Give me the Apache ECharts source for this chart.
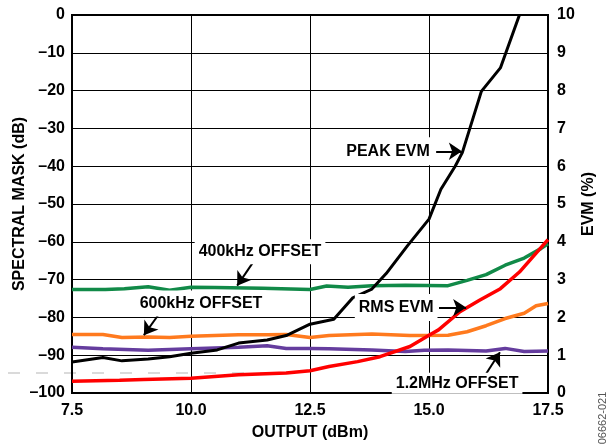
<!DOCTYPE html>
<html>
<head>
<meta charset="utf-8">
<script src="https://cdn.jsdelivr.net/npm/echarts@6/dist/echarts.min.js"></script>
<style>
  html, body { margin: 0; padding: 0; background: #fff; }
  #chart { width: 610px; height: 446px; }
</style>
</head>
<body>
<div id="chart"></div>
<script>
// spectral mask / EVM vs output power
const font = 'Liberation Sans, Arial, Helvetica, sans-serif';

// [output dBm, spectral mask dB]
const offset400k = [
  [7.5, -72.6], [8.2, -72.6], [8.6, -72.4], [9.1, -71.9], [9.55, -72.8], [10.0, -72.0],
  [10.5, -72.1], [11.5, -72.3], [12.5, -72.6], [12.85, -71.7], [13.3, -72.0], [13.8, -71.6],
  [14.5, -71.5], [15.4, -71.6], [15.8, -70.2], [16.2, -68.7], [16.6, -66.2], [17.0, -64.3],
  [17.35, -61.8], [17.5, -60.5]
];
const offset600k = [
  [7.5, -84.5], [8.15, -84.5], [8.55, -85.3], [9.1, -85.2], [9.55, -85.3], [10.0, -85.0],
  [11.0, -84.6], [11.6, -84.6], [12.0, -84.5], [12.5, -85.3], [12.9, -84.8], [13.8, -84.4],
  [14.6, -84.8], [15.4, -84.7], [15.8, -83.8], [16.2, -82.2], [16.6, -80.3], [17.0, -78.9],
  [17.25, -76.9], [17.5, -76.3]
];
const offset1M2 = [
  [7.5, -87.9], [8.15, -88.3], [9.1, -88.7], [10.0, -88.3], [11.0, -87.9], [11.6, -87.5],
  [12.0, -88.2], [12.5, -88.2], [12.9, -88.3], [13.8, -88.6], [14.5, -89.0], [14.9, -88.7],
  [15.4, -88.6], [16.2, -88.9], [16.6, -88.2], [17.0, -89.0], [17.5, -88.9]
];
// [output dBm, EVM %]
const rmsEvm = [
  [7.5, 0.31], [8.5, 0.34], [9.0, 0.36], [10.0, 0.39], [11.0, 0.48], [12.0, 0.53],
  [12.5, 0.59], [12.9, 0.70], [13.5, 0.83], [13.97, 0.96], [14.6, 1.23], [15.0, 1.53],
  [15.2, 1.67], [15.65, 2.15], [16.07, 2.46], [16.5, 2.76], [16.9, 3.2], [17.5, 4.06]
];
const peakEvm = [
  [7.5, 0.82], [8.15, 0.94], [8.55, 0.85], [9.1, 0.9], [9.55, 0.96], [10.0, 1.05],
  [10.55, 1.14], [11.0, 1.32], [11.6, 1.4], [12.0, 1.52], [12.5, 1.82], [13.0, 1.95],
  [13.4, 2.52], [13.8, 2.75], [14.1, 3.16], [14.55, 3.9], [15.0, 4.6], [15.25, 5.39],
  [15.55, 6.0], [15.7, 6.36], [16.1, 7.98], [16.5, 8.6], [16.9, 10.0]
];

// callout texts [label, x dBm, y dB, padding] and arrows [x1, y1, x2, y2] in dBm / dB
const callouts = [
  ['PEAK EVM', 14.14, -36.05, [6, 4, 6, 4]],
  ['400kHz OFFSET', 11.45, -62.6, [5, 4, 4, 4]],
  ['600kHz OFFSET', 10.21, -76.3, [5, 4, 5, 4]],
  ['RMS EVM', 14.31, -77.4, [6, 4, 5, 4]],
  ['1.2MHz OFFSET', 15.59, -97.4, [4, 4, 1, 4]]
];
const arrows = [
  [15.15, -36.05, 15.69, -36.05],
  [11.30, -65.5, 10.97, -71.6],
  [9.35, -78.7, 9.01, -84.7],
  [15.21, -77.4, 15.78, -77.4],
  [16.18, -95.3, 16.49, -89.2]
];

const bold = { color: '#000', fontFamily: font, fontWeight: 'bold', fontSize: 16 };

const lineSeries = (name, data, color, axis, width) => ({
  name,
  type: 'line',
  yAxisIndex: axis,
  data,
  symbol: 'none',
  smooth: false,
  silent: true,
  lineStyle: { color, width },
  z: 3
});

const chart = echarts.init(document.getElementById('chart'));

// white label boxes sit over the grid but under the curves
const annotationSeries = {
  type: 'line',
  yAxisIndex: 0,
  data: [],
  silent: true,
  z: 1,
  markPoint: {
    silent: true,
    symbol: 'rect',
    symbolSize: 1,
    itemStyle: { color: 'rgba(0,0,0,0)' },
    label: {
      show: true,
      position: 'inside',
      formatter: '{b}',
      backgroundColor: '#fff',
      ...bold
    },
    data: callouts.map(([text, x, y, pad]) => ({
      name: text,
      coord: [x, y],
      label: { padding: pad }
    }))
  },
  markLine: {
    silent: true,
    symbol: ['none', 'arrow'],
    symbolSize: 13,
    label: { show: false },
    lineStyle: { color: '#000', width: 2, type: 'solid' },
    data: arrows.map(([x1, y1, x2, y2]) => [{ coord: [x1, y1] }, { coord: [x2, y2] }])
  }
};

chart.setOption({
  animation: false,
  grid: {
    left: 72, right: 62, top: 15, bottom: 51,
    show: true, borderColor: '#000', borderWidth: 2
  },
  xAxis: {
    type: 'value',
    min: 7.5, max: 17.5, interval: 2.5,
    name: 'OUTPUT (dBm)',
    nameLocation: 'middle',
    nameGap: 32,
    nameMoveOverlap: false,
    nameTextStyle: bold,
    axisLine: { show: true, lineStyle: { color: '#000', width: 2 } },
    axisTick: { show: false },
    axisLabel: { ...bold, margin: 10, formatter: (v) => v.toFixed(1) },
    splitLine: { show: true, lineStyle: { color: '#000', width: 1 } }
  },
  yAxis: [
    {
      type: 'value',
      min: -100, max: 0, interval: 10,
      name: 'SPECTRAL MASK (dB)',
      nameLocation: 'middle',
      nameGap: 44,
      nameMoveOverlap: false,
      nameTextStyle: bold,
      axisLine: { show: true, lineStyle: { color: '#000', width: 2 } },
      axisTick: { show: false },
      axisLabel: { ...bold, margin: 7, formatter: (v) => (v < 0 ? '\u2013' + Math.abs(v) : String(v)) },
      splitLine: { show: true, lineStyle: { color: '#000', width: 1 } }
    },
    {
      type: 'value',
      position: 'right',
      min: 0, max: 10, interval: 1,
      name: 'EVM (%)',
      nameLocation: 'middle',
      nameGap: 33,
      nameMoveOverlap: false,
      nameRotate: 90,
      nameTextStyle: bold,
      axisLine: { show: true, lineStyle: { color: '#000', width: 2 } },
      axisTick: { show: false },
      axisLabel: { ...bold, margin: 9 },
      splitLine: { show: false }
    }
  ],
  graphic: [
    {
      type: 'line',
      silent: true,
      z: -1,
      shape: { x1: 8, y1: 373, x2: 285, y2: 373 },
      style: { stroke: '#b5b5b5', lineWidth: 1, lineDash: [12, 16] }
    },
    {
      type: 'text',
      silent: true,
      x: 603, y: 418,
      rotation: Math.PI / 2,
      style: {
        text: '06662-021',
        fill: '#555',
        font: '11px ' + font,
        textAlign: 'center',
        textVerticalAlign: 'middle'
      }
    }
  ],
  series: [
    annotationSeries,
    lineSeries('400kHz OFFSET', offset400k, '#118a48', 0, 3.5),
    lineSeries('600kHz OFFSET', offset600k, '#ff7a1e', 0, 3.5),
    lineSeries('1.2MHz OFFSET', offset1M2, '#653d9e', 0, 3.5),
    lineSeries('RMS EVM', rmsEvm, '#ff0000', 1, 3.5),
    lineSeries('PEAK EVM', peakEvm, '#000000', 1, 3)
  ]
});
</script>
</body>
</html>
